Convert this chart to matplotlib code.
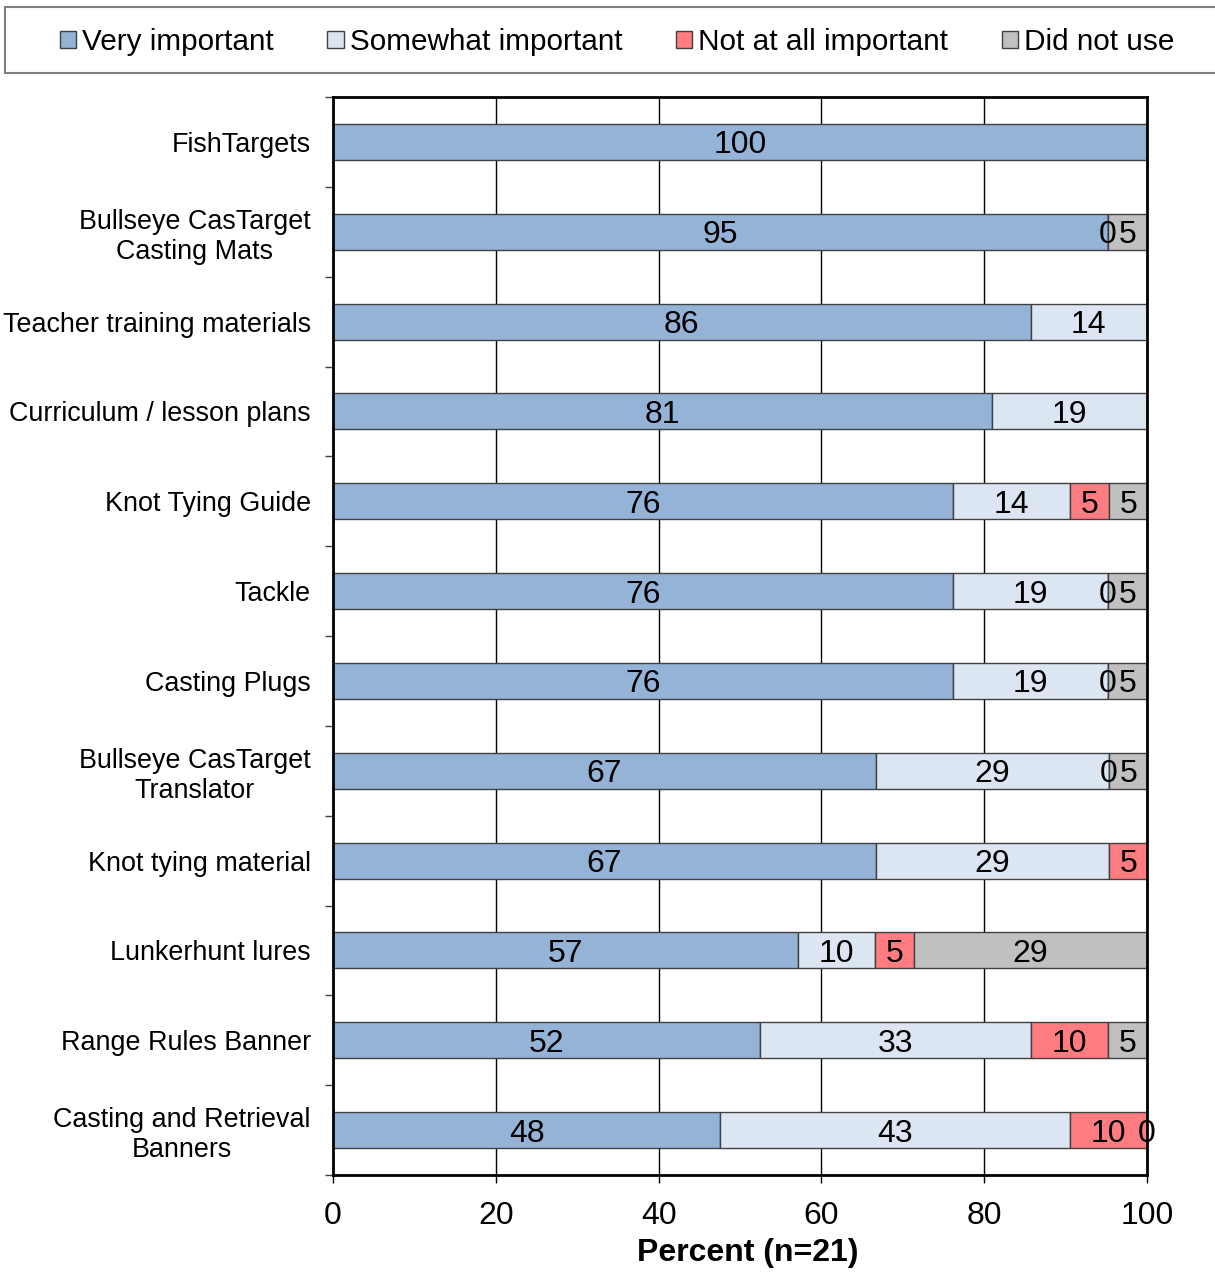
import numpy as np
import matplotlib
matplotlib.use('Agg')
import matplotlib.pyplot as plt
from matplotlib.patches import Patch, Rectangle

plt.rcParams['font.family'] = ['Liberation Sans', 'DejaVu Sans']

categories = ['FishTargets', 'Bullseye CasTarget\nCasting Mats', 'Teacher training materials',
              'Curriculum / lesson plans', 'Knot Tying Guide', 'Tackle', 'Casting Plugs',
              'Bullseye CasTarget\nTranslator', 'Knot tying material', 'Lunkerhunt lures',
              'Range Rules Banner', 'Casting and Retrieval\nBanners']
nan = np.nan
very = [100, 95.2, 85.7, 81.0, 76.2, 76.2, 76.2, 66.7, 66.7, 57.1, 52.4, 47.6]
somewhat = [nan, nan, 14.3, 19.0, 14.3, 19.0, 19.0, 28.6, 28.6, 9.5, 33.3, 42.9]
not_at_all = [nan, 0, nan, nan, 4.8, 0, 0, 0, 4.8, 4.8, 9.5, 9.5]
did_not_use = [nan, 4.8, nan, nan, 4.8, 4.8, 4.8, 4.8, nan, 28.6, 4.8, 0]

series_names = ['Very important', 'Somewhat important', 'Not at all important', 'Did not use']
colors = ['#95B3D7', '#DCE6F2', '#FF7C80', '#C0C0C0']
xticks = [0, 20, 40, 60, 80, 100]

fig = plt.figure(figsize=(12.15, 12.77), dpi=100)
ax = fig.add_axes([333 / 1215, 1 - 1175 / 1277, 814 / 1215, 1078 / 1277])

y = np.arange(len(categories))
left = np.zeros(len(categories))
for vals, c in zip([very, somewhat, not_at_all, did_not_use], colors):
    v = np.array(vals, dtype=float)
    w = np.nan_to_num(v)
    ax.barh(y, w, left=left, height=0.4, color=c, edgecolor='#404040', linewidth=1, zorder=3)
    for i in range(len(v)):
        if not np.isnan(v[i]):
            ax.text(left[i] + w[i] / 2, y[i], '%.0f' % v[i], ha='center', va='center_baseline',
                    fontsize=23, zorder=5, clip_on=False)
    left = left + w

ax.set_xlim(0, 100)
ax.set_ylim(len(categories) - 0.5, -0.5)
ax.set_xticks(xticks)
ax.set_xticklabels([str(t) for t in xticks], fontsize=23)
ax.tick_params(axis='x', length=6, width=1, pad=13, direction='out')
ax.set_yticks(y)
ax.set_yticklabels(categories, fontsize=19.4, multialignment='center')
ax.set_yticks(np.arange(len(categories) + 1) - 0.5, minor=True)
ax.tick_params(axis='y', which='major', length=0, pad=16)
ax.tick_params(axis='y', which='minor', length=6, width=1, color='#404040')
ax.grid(axis='x', color='black', linewidth=1, zorder=0)
for s in ax.spines.values():
    s.set_linewidth(2)
    s.set_zorder(6)
ax.set_xlabel('Percent (n=21)', fontsize=23, fontweight='bold')
ax.xaxis.set_label_coords(0.51, -0.072, transform=ax.transAxes)
ax.xaxis.label.set_va('center')

# legend box across the top
fig.patches.append(Rectangle((5 / 1215, 1 - 73 / 1277), 1.02, 66 / 1277, transform=fig.transFigure,
                             facecolor='white', edgecolor='#808080', linewidth=1.5))
handles = [Patch(facecolor=c, edgecolor='#404040', linewidth=1) for c in colors]
fig.legend(handles, series_names, loc='center', bbox_to_anchor=(617 / 1215, 1 - 42 / 1277),
           ncol=4, frameon=False, fontsize=21.4, handlelength=0.55, handleheight=0.55,
           handletextpad=0.2, columnspacing=1.8)

fig.savefig('out.png', dpi=100)
